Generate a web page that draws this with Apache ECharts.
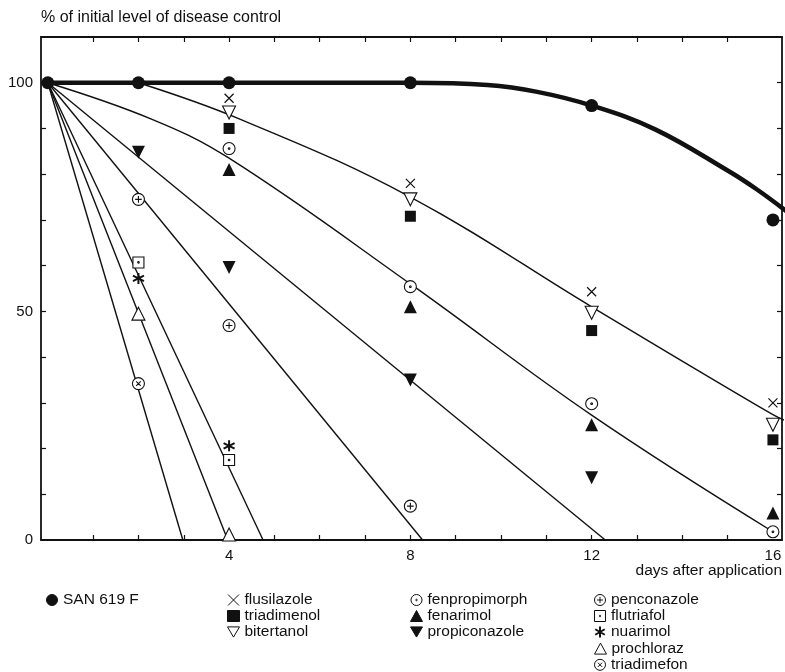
<!DOCTYPE html>
<html>
<head>
<meta charset="utf-8">
<script src="https://cdn.jsdelivr.net/npm/echarts@6/dist/echarts.min.js"></script>
<style>
  html, body { margin: 0; padding: 0; background: #ffffff; }
  #chart { width: 785px; height: 672px; }
</style>
</head>
<body>
<div id="chart"></div>
<script>
// Days after application at which residual disease control was assessed
const dayTicks = [1, 2, 3, 4, 5, 6, 7, 8, 9, 10, 11, 12, 13, 14, 15];
const dayLabels = [4, 8, 12, 16];
const pctTicks = [10, 20, 30, 40, 50, 60, 70, 80, 90, 100];
const pctLabels = [0, 50, 100];

// Observed values: [day, % of initial level of disease control]
const san619f      = [[0, 100], [2, 100], [4, 100], [8, 100], [12, 95], [16, 70]];
const flusilazole  = [[4, 96.6], [8, 78], [12, 54.3], [16, 30]];
const triadimenol  = [[4, 90], [8, 70.8], [12, 45.8], [16, 21.9]];
const bitertanol   = [[4, 93.5], [8, 74.5], [12, 49.7], [16, 25.2]];
const fenpropimorph = [[4, 85.6], [8, 55.4], [12, 29.8], [16, 1.8]];
const fenarimol    = [[4, 81], [8, 51], [12, 25.2], [16, 5.9]];
const propiconazole = [[2, 84.8], [4, 59.6], [8, 35], [12, 13.6]];
const penconazole  = [[2, 74.5], [4, 46.9], [8, 7.4]];
const flutriafol   = [[2, 60.7], [4, 17.5]];
const nuarimol     = [[2, 57.2], [4, 20.6]];
const prochloraz   = [[2, 49.5], [4, 1.2]];
const triadimefon  = [[2, 34.2]];

// Fitted decline curves
const sanCurve   = [[0, 100], [4, 100], [8, 100], [9.7, 99.5], [10.8, 98], [12, 95], [13.4, 89.8], [15, 80.8], [15.64, 76.7], [16.35, 71.5]];
const triazoleCurve = [[2, 100], [4.25, 92], [8, 75], [12, 51], [16, 27.4], [16.35, 25.8]];
const morphCurve = [[0, 100], [2.3, 92], [4, 83.5], [8, 56], [12, 27.3], [16, 1.8]];
const propiLine  = [[0, 100], [12.3, 0]];
const pencoLine  = [[0, 100], [8.27, 0]];
const nuariLine  = [[0, 100], [4.75, 0]];
const prochLine  = [[0, 100], [3.97, 0]];
const triadLine  = [[0, 100], [2.98, 0]];

const INK = '#111111';
const FONT = '"Liberation Sans", Arial, Helvetica, sans-serif';

// Marker glyphs
const RING = 'M0,10A10,10,0,1,0,20,10A10,10,0,1,0,0,10Z';
const SYM = {
  cross:   'path://M0,0L20,20M20,0L0,20',
  down:    'path://M0,0L20,0L10,17Z',
  dotRing: 'path://' + RING + 'M8.6,10A1.4,1.4,0,1,0,11.4,10A1.4,1.4,0,1,0,8.6,10Z',
  plusRing:'path://' + RING + 'M10,4.5L10,15.5M4.5,10L15.5,10',
  xRing:   'path://' + RING + 'M6.2,6.2L13.8,13.8M13.8,6.2L6.2,13.8',
  dotBox:  'path://M0,0L20,0L20,20L0,20ZM8.6,10A1.4,1.4,0,1,0,11.4,10A1.4,1.4,0,1,0,8.6,10Z',
  star:    'path://M10,0L10,20M1.3,5L18.7,15M18.7,5L1.3,15'
};

function markers(name, data, symbol, size, filled, bw) {
  return {
    name: name,
    type: 'scatter',
    data: data,
    symbol: symbol,
    symbolSize: size,
    z: 5,
    itemStyle: {
      color: filled ? INK : '#ffffff',
      borderColor: INK,
      borderWidth: bw === undefined ? (filled ? 0 : 1.1) : bw,
      opacity: 1
    }
  };
}

function curve(id, data, width, smooth) {
  return {
    id: id,
    type: 'line',
    data: data,
    symbol: 'none',
    smooth: smooth ? 0.4 : false,
    z: 2,
    lineStyle: { color: INK, width: width },
    silent: true
  };
}

const frameLine = { show: true, onZero: false, lineStyle: { color: INK, width: 1.8 } };
const innerTick = (vals) => ({ show: true, inside: true, length: 5, customValues: vals, lineStyle: { color: INK, width: 1.2 } });

const chart = echarts.init(document.getElementById('chart'), null, { renderer: 'canvas' });

// Key below the plot: one block per column, rows about 16 px apart
const ROW = 16.2;
const KEY_TOP = 592;
const legendBase = {
  orient: 'vertical',
  top: KEY_TOP,
  padding: 0,
  itemWidth: 12,
  itemHeight: 11,
  itemGap: 0,
  selectedMode: false,
  itemStyle: { borderWidth: 1 },
  textStyle: { color: INK, fontSize: 15.5, fontFamily: FONT }
};
const key = (left, row, names) => Object.assign({}, legendBase, { left: left, top: KEY_TOP + row * ROW, data: names });

chart.setOption({
  animation: false,
  backgroundColor: '#ffffff',
  grid: { left: 41, right: 3, top: 37, bottom: 132, containLabel: false },
  xAxis: [
    {
      type: 'value', position: 'bottom', min: -0.15, max: 16.2,
      axisLine: frameLine,
      axisTick: innerTick(dayTicks),
      axisLabel: { customValues: dayLabels, color: INK, fontSize: 15, fontFamily: FONT, margin: 8 },
      splitLine: { show: false },
      name: 'days after application',
      nameLocation: 'end',
      nameGap: 0,
      nameTextStyle: { color: INK, fontSize: 15.5, fontFamily: FONT, align: 'right', verticalAlign: 'top', padding: [23, 0, 0, 0] }
    },
    {
      type: 'value', position: 'top', min: -0.15, max: 16.2,
      axisLine: frameLine,
      axisTick: innerTick(dayTicks),
      axisLabel: { show: false },
      splitLine: { show: false }
    }
  ],
  yAxis: [
    {
      type: 'value', position: 'left', min: 0, max: 110,
      axisLine: frameLine,
      axisTick: innerTick(pctTicks),
      axisLabel: { customValues: pctLabels, color: INK, fontSize: 15, fontFamily: FONT, margin: 8 },
      splitLine: { show: false },
      name: '% of initial level of disease control',
      nameLocation: 'end',
      nameGap: 19,
      nameTextStyle: { color: INK, fontSize: 16, fontFamily: FONT, align: 'left', verticalAlign: 'middle' }
    },
    {
      type: 'value', position: 'right', min: 0, max: 110,
      axisLine: frameLine,
      axisTick: innerTick(pctTicks),
      axisLabel: { show: false },
      splitLine: { show: false }
    }
  ],
  legend: [
    key(46, 0, ['SAN 619 F']),
    key(227, 0, ['flusilazole', 'triadimenol', 'bitertanol']),
    key(410, 0, ['fenpropimorph', 'fenarimol', 'propiconazole']),
    key(594, 0, ['penconazole', 'flutriafol', { name: 'nuarimol', itemStyle: { borderWidth: 2 } }]),
    key(594, 3, ['prochloraz']),
    key(594, 4, ['triadimefon'])
  ],
  series: [
    curve('sanCurve', sanCurve, 4.5, true),
    curve('triazoleCurve', triazoleCurve, 1.4, true),
    curve('morphCurve', morphCurve, 1.4, true),
    curve('propiLine', propiLine, 1.4, false),
    curve('pencoLine', pencoLine, 1.4, false),
    curve('nuariLine', nuariLine, 1.4, false),
    curve('prochLine', prochLine, 1.4, false),
    curve('triadLine', triadLine, 1.4, false),

    markers('SAN 619 F', san619f, 'circle', 13, true),
    markers('flusilazole', flusilazole, SYM.cross, 9, false, 1.2),
    markers('triadimenol', triadimenol, 'rect', 11, true),
    markers('bitertanol', bitertanol, SYM.down, 13, false),
    markers('fenpropimorph', fenpropimorph, SYM.dotRing, 12, false),
    markers('fenarimol', fenarimol, 'triangle', 13, true),
    markers('propiconazole', propiconazole, SYM.down, 13, true),
    markers('penconazole', penconazole, SYM.plusRing, 12, false),
    markers('flutriafol', flutriafol, SYM.dotBox, 11, false),
    markers('nuarimol', nuarimol, SYM.star, 11, false, 2),
    markers('prochloraz', prochloraz, 'triangle', 13, false),
    markers('triadimefon', triadimefon, SYM.xRing, 12, false)
  ]
});
</script>
</body>
</html>
